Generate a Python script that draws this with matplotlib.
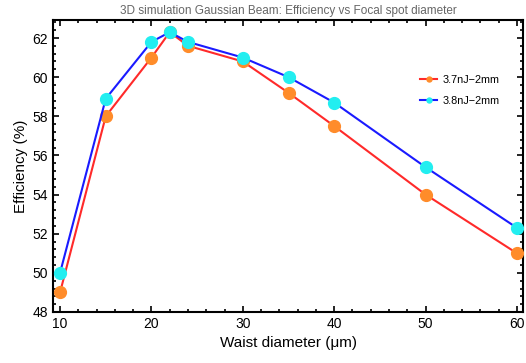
import matplotlib
matplotlib.use("Agg")
import matplotlib.pyplot as plt
from matplotlib.ticker import MultipleLocator

# waist diameter (um)
waist = [10, 15, 20, 22, 24, 30, 35, 40, 50, 60]
eff_37 = [49.0, 58.0, 61.0, 62.3, 61.6, 60.8, 59.2, 57.5, 54.0, 51.0]
eff_38 = [50.0, 58.9, 61.8, 62.3, 61.8, 61.0, 60.0, 58.7, 55.4, 52.3]
labels = ["3.7nJ\u22122mm", "3.8nJ\u22122mm"]

plt.rcParams['font.family'] = ['Liberation Sans', 'DejaVu Sans']

fig = plt.figure(figsize=(5.26, 3.63), dpi=100)
ax = fig.add_axes([0.1008, 0.1405, 0.8935, 0.8044])

ax.plot(waist, eff_37, color='#ff2a2a', lw=1.5, marker='o', ms=8.5,
        mfc='#ff8c2a', mec='#ff8c2a', label=labels[0], zorder=3)
ax.plot(waist, eff_38, color='#1a1aff', lw=1.5, marker='o', ms=8.5,
        mfc='#22eef0', mec='#22eef0', label=labels[1], zorder=4)

ax.set_xlim(9.23, 60.66)
ax.set_ylim(48, 62.92)
ax.xaxis.set_major_locator(MultipleLocator(10))
ax.xaxis.set_minor_locator(MultipleLocator(2))
ax.yaxis.set_major_locator(MultipleLocator(2))
ax.yaxis.set_minor_locator(MultipleLocator(0.4))
ax.tick_params(which='both', direction='in', top=True, right=True,
               color='black', width=1.2, labelsize=10)
ax.tick_params(which='major', length=4)
ax.tick_params(which='minor', length=2.5)
for s in ax.spines.values():
    s.set_linewidth(1.5)

ax.set_xlabel("Waist diameter (\u03bcm)", fontsize=11, labelpad=4)
ax.set_ylabel("Efficiency (%)", fontsize=11, labelpad=3)
ax.set_title("3D simulation Gaussian Beam: Efficiency vs Focal spot diameter",
             fontsize=8.5, color='#666666', pad=4)

leg = ax.legend(loc='upper left', bbox_to_anchor=(0.76, 0.845), frameon=False,
                fontsize=7.8, handlelength=1.6, markerscale=0.42,
                handletextpad=0.5, labelspacing=1.0)

fig.savefig("out.png", dpi=100)
